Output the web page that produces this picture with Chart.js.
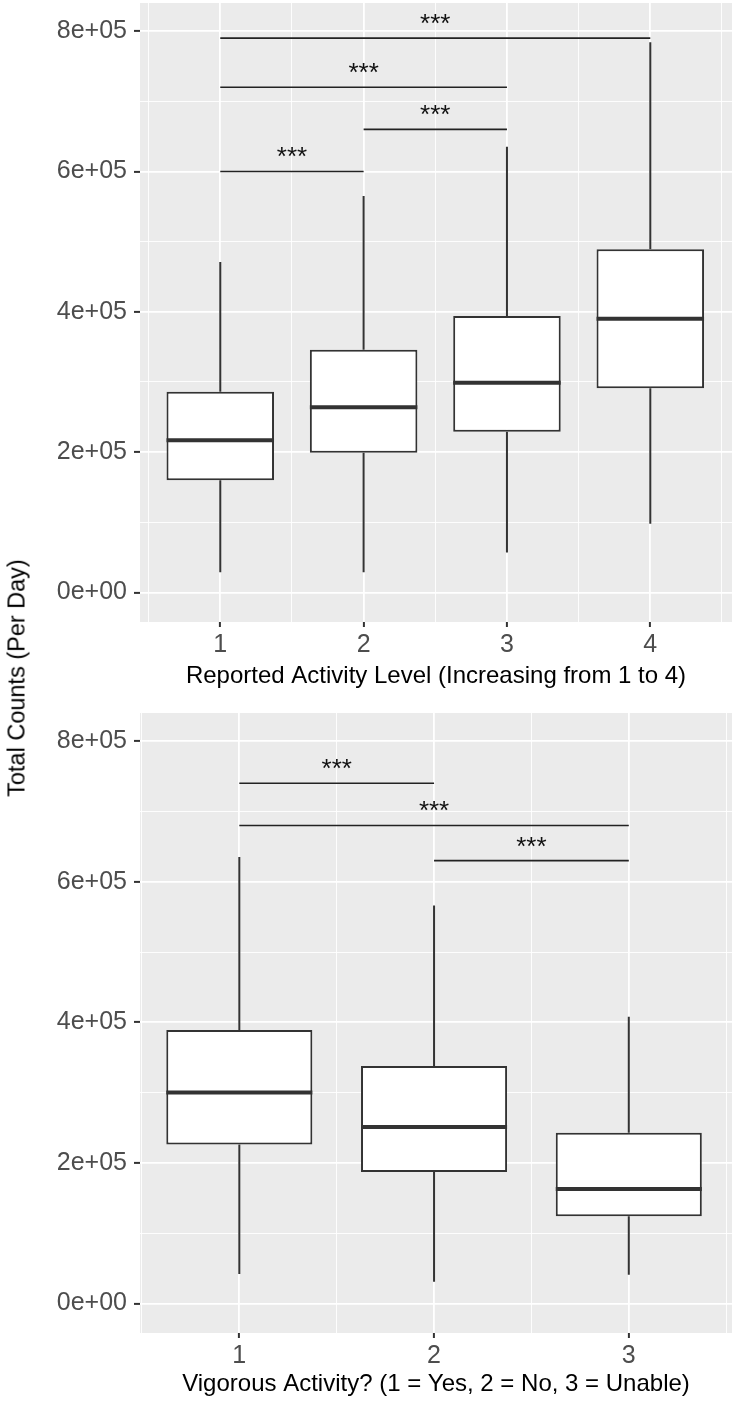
<!DOCTYPE html>
<html>
<head>
<meta charset="utf-8">
<script src="https://cdn.jsdelivr.net/npm/chart.js@4.4.1/dist/chart.umd.min.js"></script>
<style>
    body { margin: 0; background: #ffffff; }
    #page { position: relative; width: 733px; height: 1402px; overflow: hidden; }
    #topWrap { position: absolute; left: 0; top: 0; }
    #botWrap { position: absolute; left: 0; top: 700px; }
    #yTitle {
        position: absolute; left: 17px; top: 678px;
        transform: translate(-50%, -50%) rotate(-90deg);
        font-family: "Liberation Sans", Arial, sans-serif;
        font-size: 23.5px; color: #000000; white-space: nowrap;
    }
</style>
</head>
<body>
<div id="page">
    <div id="topWrap"><canvas id="topChart" width="733" height="700"></canvas></div>
    <div id="botWrap"><canvas id="botChart" width="733" height="702"></canvas></div>
    <div id="yTitle">Total Counts (Per Day)</div>
</div>
<script>
// Top panel: reported activity level
const topCats = ["1", "2", "3", "4"];
const topLow = [29000, 29000, 57000, 98000];
const topQ1 = [160000, 199000, 229000, 291000];
const topMed = [217000, 264000, 299000, 390000];
const topQ3 = [286000, 346000, 394000, 489000];
const topHigh = [471000, 565000, 635000, 784000];
const topPairs = [[1, 4], [1, 3], [2, 3], [1, 2]];
const topPairY = [790000, 720000, 660000, 600000];
const topPairLabels = ["***", "***", "***", "***"];

// Bottom panel: vigorous activity
const botCats = ["1", "2", "3"];
const botLow = [42000, 31000, 41000];
const botQ1 = [226000, 187000, 124000];
const botMed = [300000, 251000, 163000];
const botQ3 = [389000, 338000, 243000];
const botHigh = [635000, 566000, 408000];
const botPairs = [[1, 2], [1, 3], [2, 3]];
const botPairY = [740000, 680000, 630000];
const botPairLabels = ["***", "***", "***"];

// shared y axis
const yTicks = [0, 200000, 400000, 600000, 800000];
const yTickLabels = ["0e+00", "2e+05", "4e+05", "6e+05", "8e+05"];
const yMinor = [100000, 300000, 500000, 700000];

const FONT = "'Liberation Sans', Arial, sans-serif";
const BOX_W = 0.75;
const INK = "#333333";

Chart.defaults.font.family = FONT;

// grey panel background
const panelBg = {
    id: "panelBg",
    beforeDraw(chart) {
        const a = chart.chartArea;
        const ctx = chart.ctx;
        ctx.save();
        ctx.fillStyle = "#ebebeb";
        ctx.fillRect(a.left, a.top, a.right - a.left, a.bottom - a.top);
        ctx.restore();
    }
};

// significance stars above the brackets
const starLabels = {
    id: "starLabels",
    afterDatasetsDraw(chart, args, opts) {
        const ctx = chart.ctx;
        const xs = chart.scales.x, ys = chart.scales.y;
        ctx.save();
        ctx.font = "26px " + FONT;
        ctx.fillStyle = "#111111";
        ctx.textAlign = "center";
        ctx.textBaseline = "alphabetic";
        opts.pairs.forEach(function (p, i) {
            const px = xs.getPixelForValue((p[0] + p[1]) / 2);
            const py = ys.getPixelForValue(opts.levels[i]) - 6;
            ctx.fillText(opts.labels[i], px, py);
        });
        ctx.restore();
    }
};

function makePanel(canvasId, p) {
    const n = p.cats.length;
    const pos = p.cats.map((c, i) => i + 1);

    const boxes = pos.map((x, i) => ({ x: x, y: [p.q1[i], p.q3[i]] }));

    const whiskers = [];
    pos.forEach(function (x, i) {
        whiskers.push({ x: x, y: p.low[i] }, { x: x, y: p.q1[i] }, { x: x, y: null });
        whiskers.push({ x: x, y: p.q3[i] }, { x: x, y: p.high[i] }, { x: x, y: null });
    });

    const medians = [];
    pos.forEach(function (x, i) {
        medians.push({ x: x - BOX_W / 2, y: p.med[i] }, { x: x + BOX_W / 2, y: p.med[i] }, { x: x, y: null });
    });

    const brackets = [];
    p.pairs.forEach(function (pr, i) {
        brackets.push({ x: pr[0], y: p.levels[i] }, { x: pr[1], y: p.levels[i] }, { x: pr[0], y: null });
    });

    const xTicks = [];
    for (let v = 0.5; v <= n + 0.5; v += 0.5) {
        if (v >= p.xMin && v <= p.xMax) xTicks.push(v);
    }
    const isMajorX = (v) => Number.isInteger(v);
    const isMajorY = (v) => yTicks.includes(v);

    return new Chart(document.getElementById(canvasId), {
        type: "bar",
        data: {
            datasets: [
                {
                    type: "line", data: brackets, borderColor: "#222222", borderWidth: 1.6,
                    pointRadius: 0, spanGaps: false, order: 0
                },
                {
                    type: "line", data: medians, borderColor: INK, borderWidth: 4,
                    pointRadius: 0, spanGaps: false, order: 1
                },
                {
                    type: "bar", data: boxes, backgroundColor: "#ffffff", borderColor: INK,
                    borderWidth: 2, borderSkipped: false,
                    barPercentage: 1, categoryPercentage: BOX_W * 2, order: 2
                },
                {
                    type: "line", data: whiskers, borderColor: INK, borderWidth: 2,
                    pointRadius: 0, spanGaps: false, order: 3
                }
            ]
        },
        options: {
            responsive: false,
            animation: false,
            events: [],
            layout: { padding: { top: p.padTop, right: 1, left: 0, bottom: 0 } },
            plugins: {
                legend: { display: false },
                tooltip: { enabled: false },
                starLabels: { pairs: p.pairs, levels: p.levels, labels: p.labels }
            },
            scales: {
                x: {
                    type: "linear",
                    offset: false,
                    min: p.xMin,
                    max: p.xMax,
                    afterBuildTicks: (scale) => { scale.ticks = xTicks.map(v => ({ value: v })); },
                    afterFit: (scale) => {
                        scale.height = p.axisHeight;
                        scale.paddingLeft = 0;
                        scale.paddingRight = 0;
                    },
                    border: { display: false },
                    grid: {
                        offset: false,
                        color: "#ffffff",
                        lineWidth: (c) => (c.tick && isMajorX(c.tick.value) ? 1.8 : 0.9),
                        tickColor: (c) => (c.tick && isMajorX(c.tick.value) ? INK : "rgba(0,0,0,0)"),
                        tickWidth: 2,
                        tickLength: 5
                    },
                    ticks: {
                        autoSkip: false,
                        maxRotation: 0,
                        padding: 3,
                        color: "#4d4d4d",
                        font: { size: 25 },
                        callback: (v) => (isMajorX(v) ? p.cats[v - 1] : "")
                    },
                    title: {
                        display: true,
                        text: p.xTitle,
                        color: "#000000",
                        font: { size: 24 },
                        padding: { top: 0, bottom: p.titlePad }
                    }
                },
                y: {
                    type: "linear",
                    min: -42000,
                    max: 840000,
                    afterBuildTicks: (scale) => {
                        scale.ticks = yTicks.concat(yMinor).sort((a, b) => a - b).map(v => ({ value: v }));
                    },
                    afterFit: (scale) => {
                        scale.width = 140;
                        scale.paddingTop = 0;
                        scale.paddingBottom = 0;
                    },
                    border: { display: false },
                    grid: {
                        color: "#ffffff",
                        lineWidth: (c) => (c.tick && isMajorY(c.tick.value) ? 1.8 : 0.9),
                        tickColor: (c) => (c.tick && isMajorY(c.tick.value) ? INK : "rgba(0,0,0,0)"),
                        tickWidth: 2,
                        tickLength: 6
                    },
                    ticks: {
                        autoSkip: false,
                        padding: 7,
                        color: "#4d4d4d",
                        font: { size: 25 },
                        callback: (v) => {
                            const i = yTicks.indexOf(v);
                            return i >= 0 ? yTickLabels[i] : "";
                        }
                    }
                }
            }
        },
        plugins: [panelBg, starLabels]
    });
}

makePanel("topChart", {
    cats: topCats, low: topLow, q1: topQ1, med: topMed, q3: topQ3, high: topHigh,
    pairs: topPairs, levels: topPairY, labels: topPairLabels,
    xMin: 0.44, xMax: 4.57, padTop: 3, axisHeight: 78, titlePad: 9,
    xTitle: "Reported Activity Level (Increasing from 1 to 4)"
});

makePanel("botChart", {
    cats: botCats, low: botLow, q1: botQ1, med: botMed, q3: botQ3, high: botHigh,
    pairs: botPairs, levels: botPairY, labels: botPairLabels,
    xMin: 0.49, xMax: 3.53, padTop: 13, axisHeight: 69, titlePad: 3,
    xTitle: "Vigorous Activity? (1 = Yes, 2 = No, 3 = Unable)"
});
</script>
</body>
</html>
